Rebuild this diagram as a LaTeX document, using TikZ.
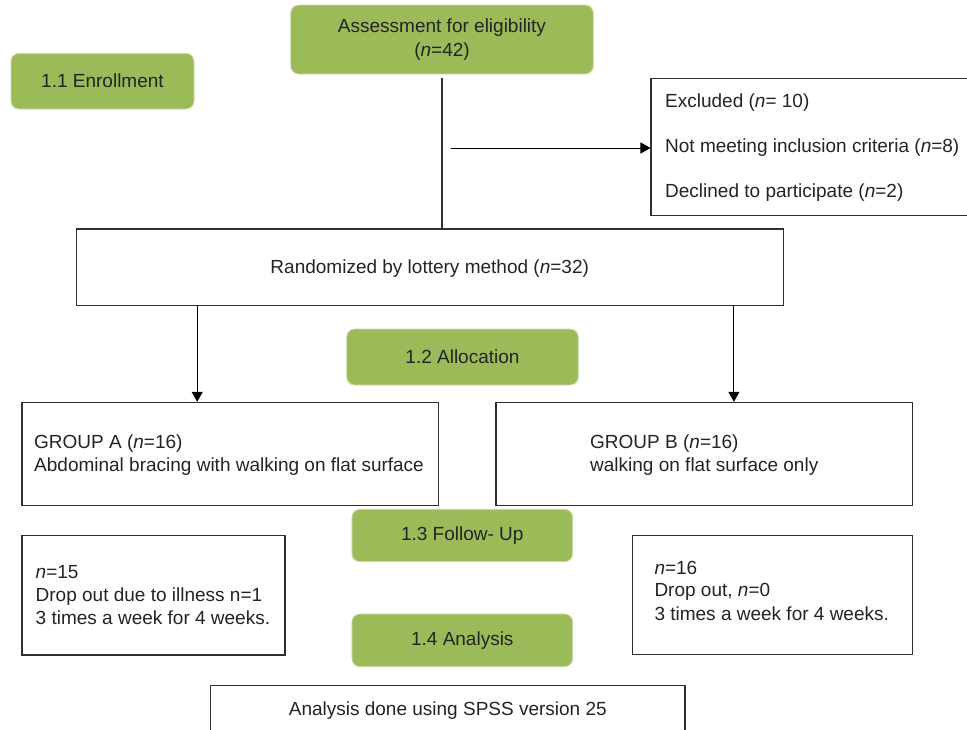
\documentclass[tikz,border=0pt]{standalone}
\usepackage{fontspec}
\setmainfont{Liberation Sans}
\usetikzlibrary{arrows.meta}
\definecolor{grn}{HTML}{9BBB59}
\definecolor{grnb}{HTML}{CCDCAE}
\definecolor{boxc}{HTML}{303030}
\definecolor{txtc}{HTML}{242424}
\begin{document}
\begin{tikzpicture}[x=1pt,y=-1pt,
  every node/.style={font=\fontsize{19}{24}\selectfont, text=txtc},
  gbox/.style={fill=grn, draw=grnb, line width=0.8pt, rounded corners=8pt, inner sep=0pt},
  wbox/.style={draw=boxc, line width=1.1pt, fill=white, inner sep=0pt},
  txt/.style={inner sep=0pt},
  conn/.style={draw=boxc, line width=1.4pt},
  arr/.style={draw=black, line width=1pt, -{Triangle[length=10pt,width=11pt]}}]
\useasboundingbox (0,0) rectangle (967,729);
\clip (0,0) rectangle (967,729);

% green stage boxes
\node[gbox, minimum width=302.6pt, minimum height=69pt, align=center] (assess) at (442,39.5)
  {Assessment for eligibility\\(\textit{n}=42)};
\node[gbox, minimum width=183pt, minimum height=55.7pt] (enroll) at (102.5,81.2) {1.1 Enrollment};
\node[gbox, minimum width=231.6pt, minimum height=56pt] (alloc) at (462.5,357) {1.2 Allocation};
\node[gbox, minimum width=220.7pt, minimum height=52.4pt] (follow) at (462.3,535.5) {1.3 Follow- Up};
\node[gbox, minimum width=220.7pt, minimum height=52.7pt] (anal) at (462.3,640.3) {1.4 Analysis};

% excluded
\node[wbox, minimum width=350pt, minimum height=137pt] (excl) at (826,146.75) {};
\node[txt, anchor=base west] (ex1) at (665,107) {Excluded (\textit{n}= 10)};
\node[txt, anchor=base west] (ex2) at (665,152.5) {Not meeting inclusion criteria (\textit{n}=8)};
\node[txt, anchor=base west] (ex3) at (665,197) {Declined to participate (\textit{n}=2)};

% randomized
\node[wbox, minimum width=707.3pt, minimum height=76.7pt] (rand) at (429.7,267.3) {};
\node[txt, anchor=base] (randt) at (429.7,273.5) {Randomized by lottery method (\textit{n}=32)};

% groups
\node[wbox, minimum width=416.7pt, minimum height=102.7pt] (grpA) at (230.3,453.7) {};
\node[txt, anchor=base west] (ga1) at (34,448.3) {GROUP A (\textit{n}=16)};
\node[txt, anchor=base west] (ga2) at (34,471) {Abdominal bracing with walking on flat surface};
\node[wbox, minimum width=416.7pt, minimum height=102.7pt] (grpB) at (704.3,453.7) {};
\node[txt, anchor=base west] (gb1) at (590,448.3) {GROUP B (\textit{n}=16)};
\node[txt, anchor=base west] (gb2) at (590,471) {walking on flat surface only};

% follow-up boxes
\node[wbox, minimum width=263pt, minimum height=119.3pt] (lbox) at (153.5,595.3) {};
\node[txt, anchor=base west] (l1) at (35.5,578.3) {\textit{n}=15};
\node[txt, anchor=base west] (l2) at (35.5,601) {Drop out due to illness n=1};
\node[txt, anchor=base west] (l3) at (35.5,624) {3 times a week for 4 weeks.};
\node[wbox, minimum width=280.4pt, minimum height=118.3pt] (rbox) at (772.5,594.9) {};
\node[txt, anchor=base west] (r1) at (654.3,574) {\textit{n}=16};
\node[txt, anchor=base west] (r2) at (654.3,596.7) {Drop out, \textit{n}=0};
\node[txt, anchor=base west] (r3) at (654.3,620) {3 times a week for 4 weeks.};

% analysis
\node[wbox, minimum width=474.3pt, minimum height=74.3pt] (spss) at (447.8,722.9) {};
\node[txt, anchor=base] (spsst) at (447.8,715) {Analysis done using SPSS version 25};

% connectors
\draw[conn] ([yshift=-4pt]assess.south) -- (assess.south |- rand.north);
\coordinate (exs) at (451,148);
\draw[arr] (exs) -- (exs -| excl.west);
\coordinate (aA) at ([xshift=121.7pt]rand.south west);
\draw[arr] (aA) -- (aA |- grpA.north);
\coordinate (aB) at ([xshift=-50pt]rand.south east);
\draw[arr] (aB) -- (aB |- grpB.north);
\end{tikzpicture}
\end{document}
